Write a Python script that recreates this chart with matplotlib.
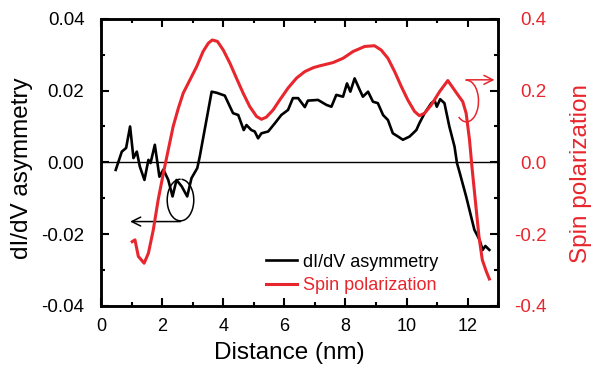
# dI/dV asymmetry vs spin polarization along a line cut

import matplotlib
matplotlib.use('Agg')
import matplotlib.pyplot as plt
from matplotlib.patches import Arc
from matplotlib.ticker import MultipleLocator

plt.rcParams['font.family'] = ['Liberation Sans', 'DejaVu Sans']

red = '#e8262d'

# black curve, left axis
asym_x = [0.48, 0.68, 0.82, 0.95, 1.06, 1.17, 1.27, 1.42, 1.55, 1.62, 1.76, 1.91, 2.04,
          2.20, 2.34, 2.47, 2.64, 2.82, 2.96, 3.15, 3.23, 3.45, 3.62, 3.78, 4.05, 4.32,
          4.49, 4.67, 4.76, 4.92, 5.03, 5.14, 5.25, 5.47, 5.69, 5.90, 6.12, 6.28, 6.45,
          6.67, 6.77, 7.10, 7.38, 7.54, 7.70, 7.92, 8.05, 8.16, 8.30, 8.44, 8.57, 8.74,
          8.90, 9.06, 9.23, 9.39, 9.55, 9.72, 9.88, 10.10, 10.32, 10.42, 10.59, 10.81,
          10.92, 10.99, 11.10, 11.24, 11.40, 11.57, 11.65, 11.73, 11.95, 12.22, 12.39,
          12.49, 12.58, 12.71]
asym_y = [-0.0021, 0.0030, 0.0040, 0.0100, 0.0012, 0.0030, -0.0012, -0.0049, 0.0007,
          -0.0002, 0.0049, -0.0040, -0.0020, -0.0049, -0.0095, -0.0049, -0.0067, -0.0095,
          -0.0044, -0.0016, 0.0016, 0.0118, 0.0197, 0.0194, 0.0186, 0.0137, 0.0132,
          0.0090, 0.0104, 0.0090, 0.0086, 0.0067, 0.0081, 0.0086, 0.0109, 0.0132, 0.0146,
          0.0179, 0.0179, 0.0154, 0.0172, 0.0174, 0.0160, 0.0155, 0.0188, 0.0183, 0.0220,
          0.0197, 0.0234, 0.0207, 0.0183, 0.0197, 0.0169, 0.0165, 0.0132, 0.0118, 0.0081,
          0.0072, 0.0063, 0.0072, 0.0090, 0.0109, 0.0137, 0.0165, 0.0172, 0.0155, 0.0176,
          0.0165, 0.0100, 0.0044, -0.0002, -0.0026, -0.0095, -0.0188, -0.0216, -0.0244,
          -0.0233, -0.0244]

# red curve, right axis
spin_x = [1.02, 1.11, 1.22, 1.41, 1.55, 1.71, 1.87, 2.04, 2.20, 2.36, 2.53, 2.69, 2.91,
          3.13, 3.34, 3.51, 3.64, 3.81, 4.00, 4.22, 4.43, 4.65, 4.87, 5.09, 5.25, 5.41,
          5.63, 5.85, 6.12, 6.40, 6.67, 6.95, 7.16, 7.59, 7.92, 8.25, 8.63, 8.95, 9.17,
          9.39, 9.61, 9.83, 10.04, 10.26, 10.42, 10.59, 10.81, 11.08, 11.35, 11.49, 11.68,
          11.84, 11.95, 12.06, 12.15, 12.26, 12.37, 12.48, 12.61, 12.71]
spin_y = [-0.221, -0.216, -0.262, -0.281, -0.253, -0.188, -0.104, -0.030, 0.035, 0.100,
          0.151, 0.193, 0.230, 0.267, 0.309, 0.332, 0.341, 0.337, 0.313, 0.276, 0.235,
          0.193, 0.155, 0.128, 0.120, 0.126, 0.146, 0.174, 0.207, 0.235, 0.253, 0.264,
          0.269, 0.278, 0.290, 0.309, 0.323, 0.325, 0.313, 0.290, 0.253, 0.211, 0.174,
          0.142, 0.130, 0.137, 0.160, 0.197, 0.228, 0.211, 0.188, 0.169, 0.137, 0.063,
          -0.021, -0.114, -0.207, -0.272, -0.304, -0.325]

fig = plt.figure(figsize=(5.91, 3.69), dpi=100)
ax = fig.add_axes([0.171, 0.171, 0.672, 0.778])
ax2 = ax.twinx()

ax.axhline(0, color='k', lw=1.0, zorder=1)
l1, = ax.plot(asym_x, asym_y, color='k', lw=1.9)
l2, = ax2.plot(spin_x, spin_y, color=red, lw=2.2)

ax.set_xlim(0, 13)
ax.set_ylim(-0.04, 0.04)
ax2.set_ylim(-0.4, 0.4)

ax.xaxis.set_major_locator(MultipleLocator(2))
ax.xaxis.set_minor_locator(MultipleLocator(1))
ax.yaxis.set_major_locator(MultipleLocator(0.02))
ax.yaxis.set_minor_locator(MultipleLocator(0.01))
ax2.yaxis.set_major_locator(MultipleLocator(0.2))
ax2.yaxis.set_minor_locator(MultipleLocator(0.1))
ax.yaxis.set_major_formatter(plt.FuncFormatter(lambda v, p: '%.2f' % v))
ax2.yaxis.set_major_formatter(plt.FuncFormatter(lambda v, p: '%.1f' % v))

ax.tick_params(which='both', direction='in', top=True, right=False, width=1.5)
ax.tick_params(axis='x', labelsize=13, pad=9)
ax.tick_params(axis='y', labelsize=13.5, pad=12)
ax.tick_params(which='major', length=6)
ax.tick_params(which='minor', length=3)
ax2.tick_params(which='both', direction='in', width=1.5, labelsize=13.5,
                labelcolor=red, pad=35)
ax2.tick_params(which='major', length=6)
ax2.tick_params(which='minor', length=3)
for t in ax2.get_yticklabels():
    t.set_horizontalalignment('right')
for a in (ax, ax2):
    for s in a.spines.values():
        s.set_linewidth(1.8)

ax.set_xlabel('Distance (nm)', fontsize=17.5)
ax.xaxis.set_label_coords(0.475, -0.125)
ax.set_ylabel('dI/dV asymmetry', fontsize=17.5)
ax.yaxis.set_label_coords(-0.172, 0.48)
ax2.set_ylabel('Spin polarization', fontsize=17.5, color=red)
ax2.yaxis.set_label_coords(1.18, 0.46)

# circled arrows pointing to the matching axis
ax.add_patch(Arc((2.6, -0.0105), 0.87, 0.0116, theta1=60, theta2=370,
                 color='k', lw=1.1))
ax.annotate('', xy=(0.95, -0.0165), xytext=(2.6, -0.0165),
            arrowprops=dict(arrowstyle='->', color='k', lw=1.1,
                            shrinkA=0, shrinkB=0, mutation_scale=16))
ax2.add_patch(Arc((11.96, 0.171), 0.79, 0.116, theta1=190, theta2=480,
                  color=red, lw=1.1))
ax2.annotate('', xy=(12.88, 0.23), xytext=(11.96, 0.23),
             arrowprops=dict(arrowstyle='->', color=red, lw=1.1,
                             shrinkA=0, shrinkB=0, mutation_scale=16))

leg = ax.legend([l1, l2], ['dI/dV asymmetry', 'Spin polarization'],
                loc='lower right', bbox_to_anchor=(0.89, -0.015), frameon=False,
                fontsize=13, handlelength=1.7, handletextpad=0.35, labelspacing=0.35)
leg.get_texts()[1].set_color(red)

fig.savefig('out.png', dpi=100)
